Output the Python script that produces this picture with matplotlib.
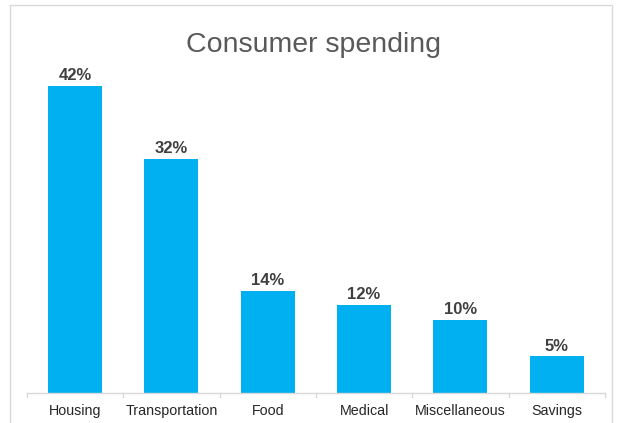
import matplotlib.pyplot as plt
from matplotlib.patches import Rectangle

categories = ['Housing', 'Transportation', 'Food', 'Medical', 'Miscellaneous', 'Savings']
shares = [42, 32, 14, 12, 10, 5]

plt.rcParams['font.family'] = ['Liberation Sans', 'DejaVu Sans']

fig = plt.figure(figsize=(6.26, 4.23), dpi=100)
ax = fig.add_axes([0.0428, 0.0709, 0.9237, 0.787])

x = list(range(len(categories)))
bars = ax.bar(x, shares, width=0.56, color='#00B0F0', zorder=2)
ax.bar_label(bars, labels=[f'{v}%' for v in shares], padding=2,
             fontsize=12, fontweight='bold', color='#404040')

ax.set_xlim(-0.5, len(categories) - 0.5)
ax.set_ylim(0, 45.5)
ax.set_yticks([])
ax.set_xticks(x)
ax.set_xticklabels(categories, fontsize=10.3, color='#262626')
ax.tick_params(axis='x', length=0, pad=8)

# category boundary ticks like Excel
for b in [i - 0.5 for i in range(len(categories) + 1)]:
    ax.plot([b, b], [0, -0.55], color='#D9D9D9', lw=1, clip_on=False)

for s in ['top', 'right', 'left']:
    ax.spines[s].set_visible(False)
ax.spines['bottom'].set_color('#D9D9D9')
ax.spines['bottom'].set_linewidth(1)

fig.text(0.5, 0.893, 'Consumer spending', ha='center', va='center',
         fontsize=20.5, color='#595959')

# chart area border
fig.patches.append(Rectangle((10 / 626, -0.05), 602 / 626, 1 - 5 / 423 + 0.05,
                             transform=fig.transFigure, fill=False,
                             edgecolor='#D9D9D9', lw=1))

fig.savefig('out.png', dpi=100, facecolor='white')
